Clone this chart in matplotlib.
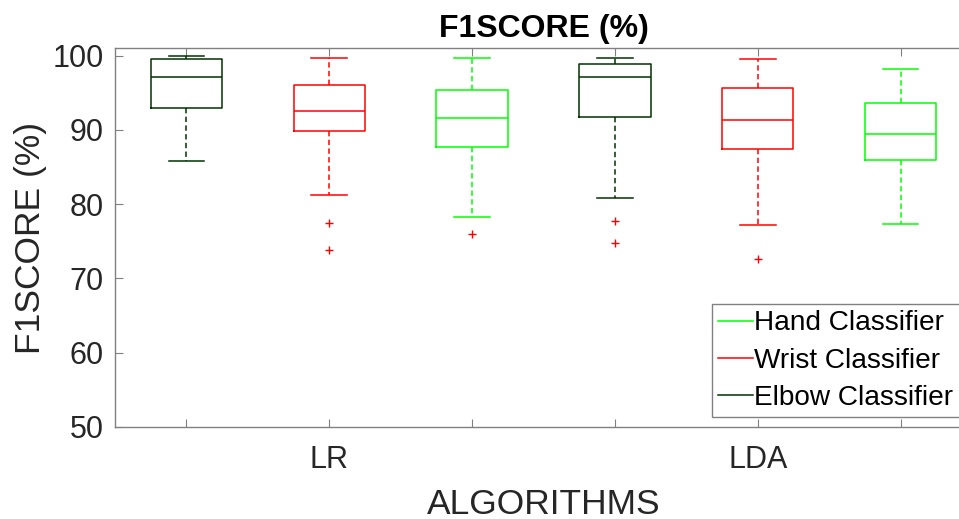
import matplotlib
matplotlib.use("Agg")
import matplotlib.pyplot as plt
from matplotlib.lines import Line2D

plt.rcParams['font.family'] = ['Liberation Sans', 'DejaVu Sans']

# boxes are grouped per algorithm: Elbow, Wrist, Hand
algorithms = ['LR', 'LDA']
classifiers = ['Elbow Classifier', 'Wrist Classifier', 'Hand Classifier']
colors = {'Elbow Classifier': (0.0, 0.2, 0.0),
          'Wrist Classifier': (1.0, 0.0, 0.0),
          'Hand Classifier': (0.0, 1.0, 0.0)}

# F1 score summaries (%), one entry per algorithm (LR, LDA)
whislo = {'Elbow Classifier': [85.8, 80.9],
          'Wrist Classifier': [81.2, 77.2],
          'Hand Classifier': [78.3, 77.4]}
q1 = {'Elbow Classifier': [93.0, 91.7],
      'Wrist Classifier': [89.9, 87.4],
      'Hand Classifier': [87.7, 85.9]}
med = {'Elbow Classifier': [97.2, 97.1],
       'Wrist Classifier': [92.5, 91.3],
       'Hand Classifier': [91.6, 89.5]}
q3 = {'Elbow Classifier': [99.55, 98.9],
      'Wrist Classifier': [96.1, 95.7],
      'Hand Classifier': [95.4, 93.6]}
whishi = {'Elbow Classifier': [100.0, 99.7],
          'Wrist Classifier': [99.7, 99.6],
          'Hand Classifier': [99.7, 98.2]}
fliers = {'Elbow Classifier': [[], [77.7, 74.8]],
          'Wrist Classifier': [[77.5, 73.8], [72.6]],
          'Hand Classifier': [[76.0], []]}

fig = plt.figure(figsize=(9.59, 5.19), dpi=100)
ax = fig.add_axes([115 / 959, 92 / 519, 857 / 959, 378.7 / 519])

for k, name in enumerate(classifiers):
    c = colors[name]
    stats = []
    for j in range(len(algorithms)):
        stats.append(dict(med=med[name][j], q1=q1[name][j], q3=q3[name][j],
                          whislo=whislo[name][j], whishi=whishi[name][j],
                          fliers=fliers[name][j]))
    pos = [k + 1 + 3 * j for j in range(len(algorithms))]
    ax.bxp(stats, positions=pos, widths=0.5, capwidths=0.25,
           boxprops=dict(color=c, lw=1.1),
           medianprops=dict(color=c, lw=1.1),
           whiskerprops=dict(color=c, lw=1.1, linestyle=(0, (3.5, 2.2))),
           capprops=dict(color=c, lw=1.1),
           flierprops=dict(marker='+', markeredgecolor='red', markersize=6,
                           markeredgewidth=1, linestyle='none'))

ax.set_xlim(0.5, 6.5)
ax.set_ylim(50, 101)
ax.set_yticks([50, 60, 70, 80, 90, 100])
ax.set_xticks([1, 2, 3, 4, 5, 6])
ax.set_xticklabels(['', 'LR', '', '', 'LDA', ''])
ax.tick_params(direction='in', length=6, width=0.8, color='#808080',
               top=True, right=True, labelsize=22, labelcolor='#262626')
ax.tick_params(axis='x', pad=13)
ax.tick_params(axis='y', pad=8)
for s in ax.spines.values():
    s.set_color('#808080')
    s.set_linewidth(1)

ax.set_title('F1SCORE (%)', fontsize=23, fontweight='bold', pad=8)
ax.set_ylabel('F1SCORE (%)', fontsize=25.5, color='#262626', labelpad=4)
ax.set_xlabel('ALGORITHMS', fontsize=25.5, color='#262626', labelpad=9)

# legend lists Hand first, Elbow last
handles = [Line2D([], [], color=colors[n], lw=1.1) for n in reversed(classifiers)]
leg = ax.legend(handles, list(reversed(classifiers)), loc='upper left',
                bbox_to_anchor=(711.7 / 959, 1 - 304.3 / 519),
                bbox_transform=fig.transFigure, fontsize=20.2,
                frameon=True, fancybox=False, framealpha=1, borderaxespad=0,
                handlelength=1.25, handletextpad=0.05, labelspacing=0.4,
                borderpad=0.22)
leg.get_frame().set_edgecolor('#808080')
leg.get_frame().set_linewidth(1)

fig.savefig('out.png', dpi=100)
